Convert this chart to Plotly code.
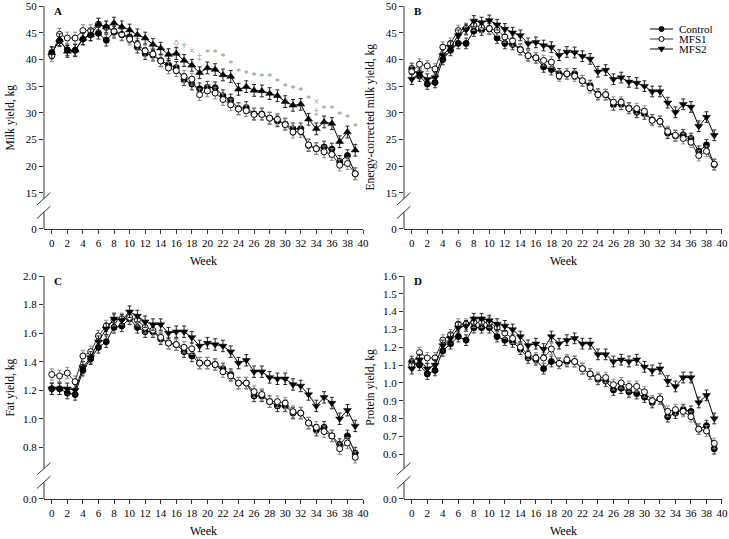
import plotly.graph_objects as go

weeks = list(range(40))

# Panel A: Milk yield, kg
milk_control = [41.3, 43.5, 41.8, 41.7, 43.8, 44.6, 44.9, 43.6, 45.1, 44.6, 44.2, 42.3, 41.1, 40.8, 39.8, 39.0, 38.5, 36.2, 35.4, 34.5,
                34.8, 34.7, 33.2, 32.4, 30.8, 31.0, 29.8, 29.8, 29.0, 28.5, 27.9, 27.0, 27.0, 23.9, 23.3, 23.6, 23.2, 20.9, 22.0, 18.6]
milk_mfs1 = [40.7, 44.7, 44.0, 44.0, 45.4, 45.4, 46.6, 46.0, 45.3, 44.7, 43.8, 42.8, 41.6, 41.0, 39.7, 38.4, 37.9, 36.8, 36.3, 33.4,
             34.1, 33.7, 32.5, 31.5, 30.7, 30.4, 29.7, 29.7, 29.0, 28.8, 27.8, 26.4, 26.5, 24.0, 23.3, 22.7, 22.2, 20.2, 20.5, 18.6]
milk_mfs2 = [41.2, 43.7, 41.5, 41.7, 43.9, 44.6, 46.6, 46.1, 46.8, 46.1, 45.5, 44.6, 44.0, 42.8, 42.1, 40.9, 41.1, 39.8, 38.9, 37.5,
             38.4, 38.1, 37.1, 36.8, 34.4, 34.9, 34.2, 34.1, 33.6, 33.2, 32.1, 31.4, 31.6, 28.8, 27.0, 28.3, 28.0, 24.6, 26.4, 23.0]

# Significance marks on panel A
sig_weeks = [16, 17, 18, 19, 20, 21, 22, 23, 24, 25, 26, 27, 28, 29, 30, 31, 32, 33, 34, 34, 35, 36, 37, 38, 39]
sig_y = [43.8, 43.4, 42.5, 41.3, 42.1, 42.1, 41.3, 40.0, 38.4, 38.1, 37.8, 37.5, 37.5, 36.6, 35.6, 35.3, 34.9, 33.5, 32.8, 31.0,
         31.6, 31.6, 30.5, 29.8, 28.2]
sig_text = ["◊", "†", "×", "‡", "*", "*", "*", "*", "*", "*", "*", "*", "*", "*", "*", "*", "*", "*", "×", "‡",
            "*", "*", "*", "*", "*"]

# Panel B: Energy-corrected milk yield, kg
ecm_control = [38.3, 36.9, 35.4, 35.7, 40.0, 41.7, 43.0, 43.0, 45.3, 45.5, 45.7, 44.0, 43.0, 42.8, 41.9, 40.7, 40.3, 38.6, 38.1, 37.3,
               37.3, 37.3, 36.0, 35.1, 33.5, 33.4, 31.5, 31.6, 30.9, 30.1, 29.8, 28.7, 28.4, 26.2, 25.7, 25.9, 25.2, 22.8, 24.0, 20.3]
ecm_mfs1 = [37.7, 39.1, 38.8, 38.2, 42.3, 43.0, 45.4, 45.8, 46.4, 46.0, 45.8, 45.5, 44.2, 43.5, 41.8, 40.7, 40.3, 39.8, 39.5, 36.9,
            37.3, 36.9, 36.0, 34.7, 33.4, 33.4, 32.0, 32.0, 30.8, 30.8, 30.3, 28.6, 28.4, 26.5, 25.8, 25.2, 24.5, 22.0, 22.8, 20.4]
ecm_mfs2 = [36.3, 37.4, 36.3, 36.6, 40.8, 42.3, 44.5, 45.6, 47.2, 46.9, 47.3, 46.5, 45.7, 45.0, 44.5, 43.0, 43.2, 42.6, 42.3, 40.8,
            41.4, 41.3, 40.6, 40.1, 37.7, 38.0, 36.3, 36.6, 35.8, 35.6, 35.0, 34.0, 34.0, 31.9, 30.1, 31.6, 31.1, 27.5, 29.2, 25.8]

# Panel C: Fat yield, kg
fat_control = [1.21, 1.21, 1.18, 1.17, 1.34, 1.42, 1.50, 1.54, 1.64, 1.65, 1.70, 1.64, 1.61, 1.61, 1.56, 1.53, 1.52, 1.47, 1.44, 1.39,
               1.39, 1.38, 1.35, 1.31, 1.25, 1.25, 1.16, 1.16, 1.12, 1.09, 1.09, 1.04, 1.04, 0.97, 0.92, 0.94, 0.88, 0.82, 0.88, 0.76]
fat_mfs1 = [1.31, 1.30, 1.32, 1.26, 1.44, 1.47, 1.58, 1.65, 1.69, 1.70, 1.71, 1.69, 1.64, 1.62, 1.57, 1.53, 1.52, 1.50, 1.49, 1.39,
            1.39, 1.38, 1.33, 1.30, 1.25, 1.25, 1.19, 1.17, 1.12, 1.12, 1.11, 1.05, 1.04, 0.97, 0.94, 0.91, 0.88, 0.79, 0.83, 0.73]
fat_mfs2 = [1.21, 1.21, 1.21, 1.20, 1.36, 1.43, 1.54, 1.63, 1.70, 1.69, 1.75, 1.72, 1.68, 1.66, 1.66, 1.60, 1.61, 1.61, 1.57, 1.51,
            1.53, 1.52, 1.51, 1.47, 1.39, 1.41, 1.33, 1.33, 1.29, 1.28, 1.28, 1.24, 1.23, 1.17, 1.09, 1.15, 1.11, 1.00, 1.06, 0.95]

# Panel D: Protein yield, kg
prot_control = [1.12, 1.10, 1.05, 1.07, 1.18, 1.22, 1.26, 1.24, 1.31, 1.31, 1.31, 1.26, 1.24, 1.23, 1.19, 1.14, 1.13, 1.08, 1.12, 1.11,
                1.12, 1.12, 1.08, 1.05, 1.02, 1.01, 0.96, 0.97, 0.95, 0.94, 0.92, 0.89, 0.91, 0.81, 0.83, 0.85, 0.84, 0.74, 0.76, 0.63]
prot_mfs1 = [1.10, 1.17, 1.14, 1.14, 1.24, 1.27, 1.33, 1.33, 1.34, 1.34, 1.34, 1.31, 1.28, 1.25, 1.20, 1.16, 1.14, 1.14, 1.19, 1.11,
             1.13, 1.12, 1.08, 1.05, 1.03, 1.03, 0.99, 1.00, 0.98, 0.98, 0.95, 0.90, 0.91, 0.84, 0.85, 0.84, 0.81, 0.74, 0.73, 0.66]
prot_mfs2 = [1.08, 1.13, 1.08, 1.10, 1.21, 1.25, 1.31, 1.32, 1.36, 1.36, 1.35, 1.33, 1.32, 1.30, 1.26, 1.21, 1.22, 1.19, 1.26, 1.22,
             1.24, 1.25, 1.22, 1.22, 1.16, 1.16, 1.12, 1.13, 1.12, 1.13, 1.09, 1.07, 1.08, 1.01, 0.98, 1.03, 1.03, 0.89, 0.93, 0.80]

# Standard errors per panel
se = {"A": 1.1, "B": 1.0, "C": 0.04, "D": 0.03}

series_names = ["Control", "MFS1", "MFS2"]
y_titles = {"A": "Milk yield, kg", "B": "Energy-corrected milk yield, kg", "C": "Fat yield, kg", "D": "Protein yield, kg"}
y_ticks = {"A": [15, 20, 25, 30, 35, 40, 45, 50], "B": [15, 20, 25, 30, 35, 40, 45, 50],
           "C": [0.8, 1.0, 1.2, 1.4, 1.6, 1.8, 2.0], "D": [0.6, 0.7, 0.8, 0.9, 1.0, 1.1, 1.2, 1.3, 1.4, 1.5, 1.6]}
y_fmt = {"A": "{:.0f}", "B": "{:.0f}", "C": "{:.1f}", "D": "{:.1f}"}
zero_label = {"A": "0", "B": "0", "C": "0.0", "D": "0.0"}
# position on each axis where the "0" tick (after the break) is drawn
zero_pos = {"A": 8.26, "B": 8.26, "C": 0.438, "D": 0.348}

data = {"A": [milk_control, milk_mfs1, milk_mfs2], "B": [ecm_control, ecm_mfs1, ecm_mfs2],
        "C": [fat_control, fat_mfs1, fat_mfs2], "D": [prot_control, prot_mfs1, prot_mfs2]}

FONT = "Liberation Serif, Times New Roman, serif"
fig = go.Figure()

W, H = 729, 539
ML, MR, MT, MB = 44, 7, 6, 40
PW, PH = W - ML - MR, H - MT - MB

dom_x = {"A": [0, 0.4705], "B": [0.531, 1.0], "C": [0, 0.4705], "D": [0.531, 1.0]}
dom_y = {"A": [0.5477, 1.0], "B": [0.5477, 1.0], "C": [0, 0.4523], "D": [0, 0.4523]}
axis_ids = {"A": ("x", "y"), "B": ("x2", "y2"), "C": ("x3", "y3"), "D": ("x4", "y4")}

line_cols = ["#000000", "#333333", "#000000"]
err_cols = ["#333333", "#8a8a8a", "#222222"]
msize = 6

for p in ["A", "B", "C", "D"]:
    xa, ya = axis_ids[p]
    for i, name in enumerate(series_names):
        if i == 0:
            marker = dict(symbol="circle", size=msize, color="black", line=dict(color="black", width=1))
        elif i == 1:
            marker = dict(symbol="circle", size=msize, color="white", line=dict(color="black", width=1))
        else:
            sym = "triangle-up" if p == "A" else "triangle-down"
            marker = dict(symbol=sym, size=msize + 1, color="black", line=dict(color="black", width=0.5))
        fig.add_trace(go.Scatter(
            x=weeks, y=data[p][i], mode="lines+markers", name=name,
            line=dict(color=line_cols[i], width=1), marker=marker,
            error_y=dict(type="constant", value=se[p], color=err_cols[i], thickness=1, width=2),
            xaxis=xa, yaxis=ya, showlegend=False,
        ))

# significance marks (panel A)
fig.add_trace(go.Scatter(x=sig_weeks, y=sig_y, mode="text", text=sig_text, textposition="bottom center",
                         textfont=dict(family=FONT, size=10, color="#8c8c8c"),
                         xaxis="x", yaxis="y", showlegend=False, hoverinfo="skip"))

layout = dict(
    width=W, height=H,
    margin=dict(l=ML, r=MR, t=MT, b=MB, autoexpand=False),
    plot_bgcolor="white", paper_bgcolor="white",
    font=dict(family=FONT, size=11, color="black"),
    showlegend=False,
)

annotations = []
shapes = []
for p in ["A", "B", "C", "D"]:
    xa, ya = axis_ids[p]
    xkey = "xaxis" if xa == "x" else "xaxis" + xa[1:]
    ykey = "yaxis" if ya == "y" else "yaxis" + ya[1:]
    tv = [zero_pos[p]] + y_ticks[p]
    tt = [zero_label[p]] + [y_fmt[p].format(v) for v in y_ticks[p]]
    layout[xkey] = dict(domain=dom_x[p], anchor=ya, range=[-1, 40], tickvals=list(range(0, 41, 2)),
                        ticks="outside", ticklen=4, tickcolor="#333", showline=True, linecolor="#333",
                        linewidth=1, showgrid=False, zeroline=False, automargin=False,
                        ticklabeloverflow="allow", tickfont=dict(family=FONT, size=11))
    layout[ykey] = dict(domain=dom_y[p], anchor=xa, range=[zero_pos[p], y_ticks[p][-1]], tickvals=tv, ticktext=tt,
                        ticks="outside", ticklen=4, tickcolor="#333", showline=False, automargin=False,
                        ticklabeloverflow="allow",
                        showgrid=False, zeroline=False, tickfont=dict(family=FONT, size=11))
    xd = xa + " domain"
    yd = ya + " domain"
    # y-axis line with a break
    shapes.append(dict(type="line", xref=xd, yref=yd, x0=0, x1=0, y0=0, y1=0.075, line=dict(color="#333", width=1)))
    shapes.append(dict(type="line", xref=xd, yref=yd, x0=0, x1=0, y0=0.135, y1=1, line=dict(color="#333", width=1)))
    shapes.append(dict(type="line", xref=xd, yref=yd, x0=-0.022, x1=0.02, y0=0.108, y1=0.163, line=dict(color="#333", width=1)))
    shapes.append(dict(type="line", xref=xd, yref=yd, x0=-0.022, x1=0.02, y0=0.047, y1=0.102, line=dict(color="#333", width=1)))
    # panel letter
    annotations.append(dict(text="<b>" + p + "</b>", xref=xd, yref=yd, x=0.025, y=1.015, xanchor="left",
                            yanchor="top", showarrow=False, font=dict(family=FONT, size=11)))
    # x title
    annotations.append(dict(text="Week", xref=xd, yref=yd, x=0.5, y=-0.145, xanchor="center", yanchor="middle",
                            showarrow=False, font=dict(family=FONT, size=12)))
    # y title
    tx = -0.05 if p in ("A", "C") else 0.481
    annotations.append(dict(text=y_titles[p], xref="paper", yref=yd, x=tx, y=0.5, xanchor="center",
                            yanchor="middle", textangle=-90, showarrow=False, font=dict(family=FONT, size=11.5)))

# custom compact legend (inside panel B), built in pixel offsets from an anchor
def px_x(px):
    return (px - ML) / PW

def px_y(py):
    return (H - MB - py) / PH

leg_rows = [29, 39, 49]
for i, name in enumerate(series_names):
    yy = px_y(leg_rows[i])
    shapes.append(dict(type="line", xref="paper", yref="paper", x0=px_x(650), x1=px_x(673), y0=yy, y1=yy,
                       line=dict(color=line_cols[i], width=1)))
    if i < 2:
        shapes.append(dict(type="circle", xref="paper", yref="paper", xsizemode="pixel", ysizemode="pixel",
                           xanchor=px_x(661.5), yanchor=yy, x0=-2.5, x1=2.5, y0=-2.5, y1=2.5,
                           fillcolor="black" if i == 0 else "white", line=dict(color="black", width=1)))
    else:
        shapes.append(dict(type="path", xref="paper", yref="paper", xsizemode="pixel", ysizemode="pixel",
                           xanchor=px_x(661.5), yanchor=yy, path="M -3.2 2.0 L 3.2 2.0 L 0 -3.2 Z",
                           fillcolor="black", line=dict(color="black", width=0.5)))
    annotations.append(dict(text=name, xref="paper", yref="paper", x=px_x(677), y=yy, xanchor="left",
                            yanchor="middle", showarrow=False, font=dict(family=FONT, size=11)))

layout["shapes"] = shapes
layout["annotations"] = annotations
fig.update_layout(**layout)
fig.write_html("out.html", config={"displayModeBar": False},
               post_script="document.body.style.margin='0px';document.body.style.overflow='hidden';")
